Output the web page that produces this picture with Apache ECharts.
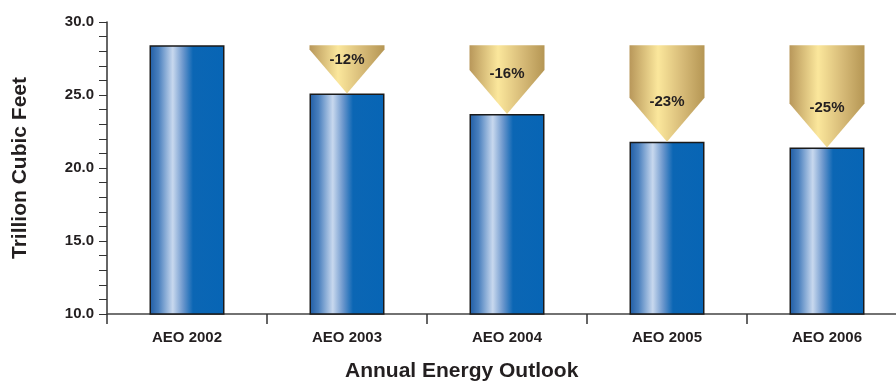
<!DOCTYPE html>
<html>
<head>
<meta charset="utf-8">
<script src="https://cdn.jsdelivr.net/npm/echarts@6/dist/echarts.min.js"></script>
<style>
  html, body { margin: 0; padding: 0; background: #fff; }
  #chart { width: 896px; height: 384px; }
</style>
</head>
<body>
<div id="chart"></div>
<script>
// data
var outlooks = ['AEO 2002', 'AEO 2003', 'AEO 2004', 'AEO 2005', 'AEO 2006'];
var volumes = [28.4, 25.1, 23.7, 21.8, 21.4]; // trillion cubic feet
var changeLabels = ['', '-12%', '-16%', '-23%', '-25%'];
var baseValue = volumes[0]; // arrows start at the AEO 2002 level

var arrowData = [];
for (var i = 1; i < outlooks.length; i++) {
  arrowData.push([i, baseValue, volumes[i], changeLabels[i]]);
}

var FONT = '"Liberation Sans", Arial, Helvetica, sans-serif';

var blueFill = {
  type: 'linear', x: 0, y: 0, x2: 1, y2: 0,
  colorStops: [
    { offset: 0, color: '#1f5ca4' },
    { offset: 0.12, color: '#4a80be' },
    { offset: 0.31, color: '#c8d8ee' },
    { offset: 0.45, color: '#6a96cc' },
    { offset: 0.58, color: '#0b66b4' },
    { offset: 1, color: '#0765b5' }
  ]
};

var goldFill = {
  type: 'linear', x: 0, y: 0, x2: 1, y2: 0,
  colorStops: [
    { offset: 0, color: '#b8975a' },
    { offset: 0.38, color: '#fbe79c' },
    { offset: 0.7, color: '#d7bb78' },
    { offset: 1, color: '#b59654' }
  ]
};

// arrow pointing from the 2002 level down to each later bar
function drawArrow(params, api) {
  var top = api.coord([api.value(0), api.value(1)]);
  var tip = api.coord([api.value(0), api.value(2)]);
  var hw = api.size([1, 0])[0] * 75 / 160 / 2;
  var x = tip[0];
  var total = tip[1] - top[1];
  var th = Math.min(44, total);
  var pts = [
    [x - hw, top[1]],
    [x + hw, top[1]],
    [x + hw, tip[1] - th],
    [x, tip[1]],
    [x - hw, tip[1] - th]
  ];
  var ty = Math.max(tip[1] - 40, top[1] + 14);
  return {
    type: 'group',
    children: [
      { type: 'polygon', shape: { points: pts }, style: { fill: goldFill } },
      {
        type: 'text',
        style: {
          x: x, y: ty, text: api.value(3),
          fill: '#231f20', font: 'bold 15px ' + FONT,
          align: 'center', verticalAlign: 'middle'
        }
      }
    ]
  };
}

var chart = echarts.init(document.getElementById('chart'));
chart.setOption({
  animation: false,
  title: {
    text: 'Annual Energy Outlook',
    left: 345, top: 361, padding: 0,
    textStyle: { fontFamily: FONT, fontWeight: 'bold', fontSize: 21, color: '#231f20' }
  },
  grid: { left: 107, right: -11, top: 22, bottom: 70, outerBoundsMode: 'none', containLabel: false },
  xAxis: {
    type: 'category',
    data: outlooks,
    axisLine: { lineStyle: { color: '#444', width: 1.5 } },
    axisTick: { show: true, length: 10, lineStyle: { color: '#333', width: 1.5 } },
    axisLabel: { margin: 16, fontFamily: FONT, fontWeight: 'bold', fontSize: 15, color: '#231f20' }
  },
  yAxis: {
    type: 'value',
    min: 10, max: 30, interval: 5,
    name: 'Trillion Cubic Feet',
    nameLocation: 'middle',
    nameGap: 76,
    nameTextStyle: { fontFamily: FONT, fontWeight: 'bold', fontSize: 21, color: '#231f20' },
    axisLine: { show: true, lineStyle: { color: '#333', width: 1.5 } },
    axisTick: { show: true, length: 8, lineStyle: { color: '#333' } },
    minorTick: { show: true, splitNumber: 5, length: 8, lineStyle: { color: '#333' } },
    splitLine: { show: false },
    axisLabel: {
      margin: 13, fontFamily: FONT, fontWeight: 'bold', fontSize: 15, color: '#231f20',
      formatter: function (v) { return v.toFixed(1); }
    }
  },
  series: [
    {
      type: 'bar',
      data: volumes,
      barWidth: 75,
      itemStyle: { color: blueFill, borderColor: '#1a1a1a', borderWidth: 1.5 }
    },
    {
      type: 'custom',
      renderItem: drawArrow,
      data: arrowData,
      encode: { x: 0, y: [1, 2] },
      z: 3
    }
  ]
});
</script>
</body>
</html>
